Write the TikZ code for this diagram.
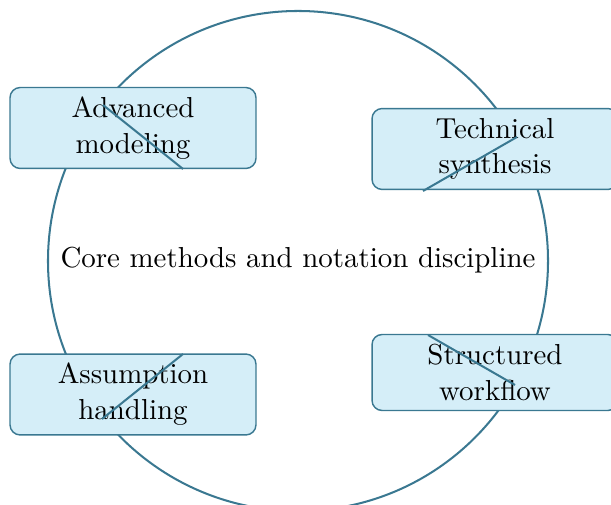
\documentclass[tikz,border=0pt]{standalone}
\usetikzlibrary{calc}
\definecolor{linec}{HTML}{3A7891}
\definecolor{fillc}{HTML}{D5EEF8}
\tikzset{
  boxnode/.style={draw=linec, line width=0.5pt, fill=fillc, rounded corners=3.5pt,
    minimum width=85.1pt, minimum height=28pt, inner sep=0pt, align=center},
  ringline/.style={draw=linec, line width=0.7pt},
  spoke/.style={draw=linec, line width=0.7pt}
}
\begin{document}
\begin{tikzpicture}[x=0.346pt,y=-0.346pt]
\useasboundingbox (0,0) rectangle (611,505);
\coordinate (c) at (298,261);
\draw[ringline] (c) circle[radius=86.5pt];
\node[boxnode] (adv) at (133,128) {Advanced\\[0.4pt]modeling};
\node[boxnode] (tech) at (495,149) {Technical\\[0.4pt]synthesis};
\node[boxnode] (ass) at (133,394.5) {Assumption\\[0.4pt]handling};
\node[boxnode, minimum height=26.3pt] (str) at (495,372.5) {Structured\\[0.4pt]workflow};
\node (core) at (298,260) {Core methods and notation discipline};
\coordinate (a1) at (103,105); \coordinate (a2) at (183,169);
\coordinate (t1) at (517,137); \coordinate (t2) at (423,191);
\coordinate (s1) at (183,354); \coordinate (s2) at (102,419);
\coordinate (w1) at (428,335); \coordinate (w2) at (515,385);
\draw[spoke] (a1) -- (a2);
\draw[spoke] (t1) -- (t2);
\draw[spoke] (s1) -- (s2);
\draw[spoke] (w1) -- (w2);
\end{tikzpicture}
\end{document}
